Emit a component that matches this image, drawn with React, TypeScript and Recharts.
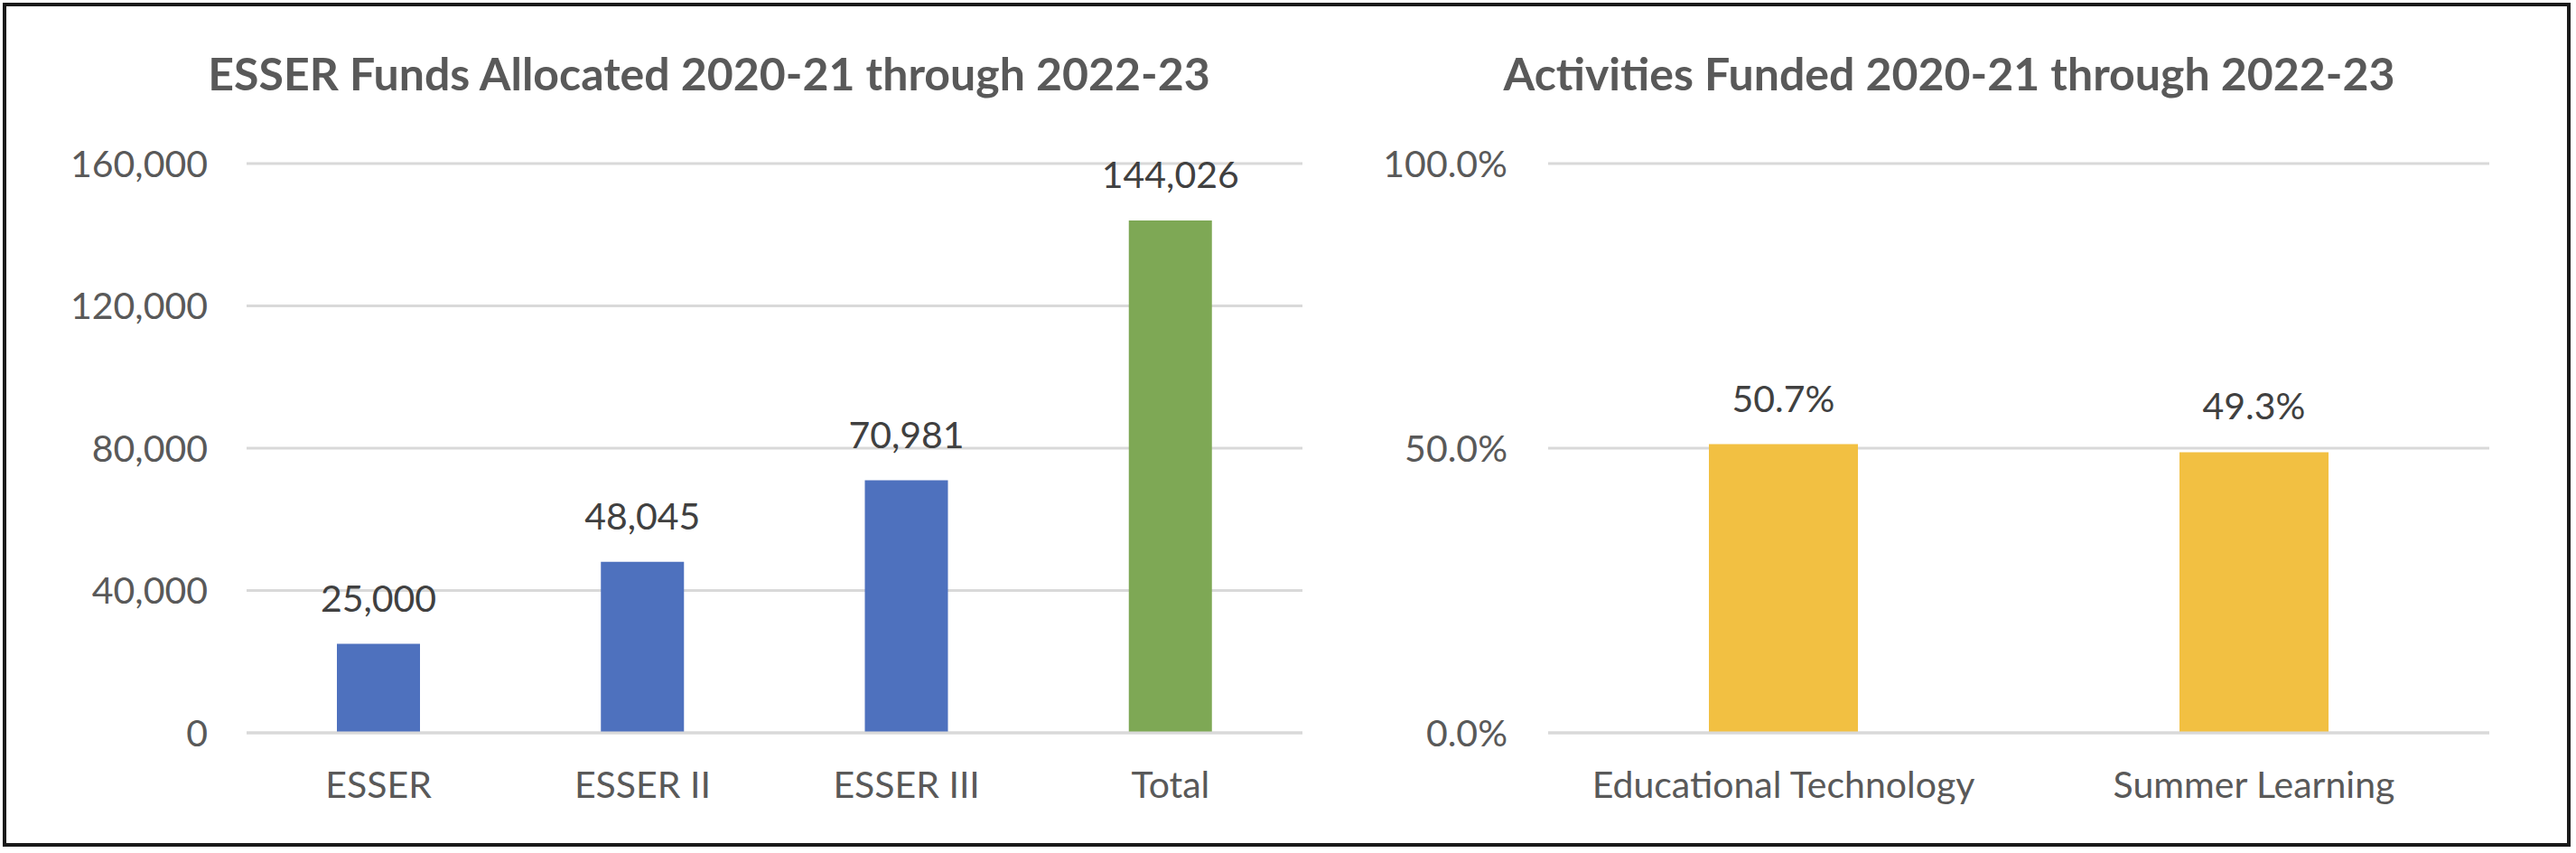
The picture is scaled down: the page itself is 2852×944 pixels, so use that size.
import React from 'react';
import { BarChart, Bar, XAxis, YAxis, CartesianGrid, Cell, LabelList } from 'recharts';

// ESSER funds (dollars)
const fundCategories = ['ESSER', 'ESSER II', 'ESSER III', 'Total'];
const fundValues = [25000, 48045, 70981, 144026];
const fundTicks = [0, 40000, 80000, 120000, 160000];

// share of activities funded
const activityCategories = ['Educational Technology', 'Summer Learning'];
const activityShares = [0.507, 0.493];
const activityTicks = [0, 0.5, 1];

const fundColors = ['#4E71BE', '#4E71BE', '#4E71BE', '#7EA855'];
const activityColor = '#F2C042';

const FONT = 'Lato, "Open Sans", sans-serif';
const AXIS_GRAY = '#595959';
const LABEL_GRAY = '#404040';
const GRID = '#D9D9D9';

const fundData = fundCategories.map((name, i) => ({ name, value: fundValues[i] }));
const activityData = activityCategories.map((name, i) => ({ name, value: activityShares[i] }));

const fmtNum = (v: number) => v.toLocaleString('en-US');
const fmtPct = (v: number) => (v * 100).toFixed(1) + '%';

const tickStyle = { fill: AXIS_GRAY, fontSize: 41, fontFamily: FONT };
const labelStyle = { fill: LABEL_GRAY, fontSize: 41, fontFamily: FONT };

function Title({ text, center }: { text: string; center: number }) {
  return (
    <div
      style={{
        position: 'absolute',
        left: center - 700,
        width: 1400,
        top: 56,
        textAlign: 'center',
        fontFamily: FONT,
        fontWeight: 700,
        fontSize: 50,
        lineHeight: 1,
        color: AXIS_GRAY,
      }}
    >
      {text}
    </div>
  );
}

export default function App() {
  return (
    <div style={{ position: 'relative', width: 2852, height: 944, background: '#fff' }}>
      <style>{`body{margin:0}`}</style>
      <div
        style={{
          position: 'absolute',
          left: 3,
          top: 3,
          width: 2843,
          height: 934,
          boxSizing: 'border-box',
          border: '4px solid #1a1a1a',
        }}
      />

      <Title text="ESSER Funds Allocated 2020-21 through 2022-23" center={785} />
      <Title text="Activities Funded 2020-21 through 2022-23" center={2158} />

      <div style={{ position: 'absolute', left: 0, top: 0 }}>
        <BarChart
          width={1480}
          height={944}
          data={fundData}
          margin={{ top: 181, right: 38, bottom: 73, left: 0 }}
        >
          <CartesianGrid vertical={false} stroke={GRID} strokeWidth={3} />
          <XAxis
            dataKey="name"
            axisLine={{ stroke: GRID, strokeWidth: 3 }}
            tickLine={false}
            tickSize={0}
            tickMargin={43}
            height={60}
            tick={tickStyle}
            interval={0}
          />
          <YAxis
            domain={[0, 160000]}
            ticks={fundTicks}
            tickFormatter={fmtNum}
            axisLine={false}
            tickLine={false}
            tickSize={0}
            tickMargin={43}
            width={273}
            tick={tickStyle}
          />
          <Bar dataKey="value" barSize={92} isAnimationActive={false}>
            {fundData.map((d, i) => (
              <Cell key={d.name} fill={fundColors[i]} />
            ))}
            <LabelList dataKey="value" position="top" offset={36} formatter={fmtNum} style={labelStyle} />
          </Bar>
        </BarChart>
      </div>

      <div style={{ position: 'absolute', left: 1480, top: 0 }}>
        <BarChart
          width={1372}
          height={944}
          data={activityData}
          margin={{ top: 181, right: 96, bottom: 73, left: 0 }}
        >
          <CartesianGrid vertical={false} stroke={GRID} strokeWidth={3} />
          <XAxis
            dataKey="name"
            axisLine={{ stroke: GRID, strokeWidth: 3 }}
            tickLine={false}
            tickSize={0}
            tickMargin={43}
            height={60}
            tick={tickStyle}
            interval={0}
          />
          <YAxis
            domain={[0, 1]}
            ticks={activityTicks}
            tickFormatter={fmtPct}
            axisLine={false}
            tickLine={false}
            tickSize={0}
            tickMargin={45}
            width={234}
            tick={tickStyle}
          />
          <Bar dataKey="value" fill={activityColor} barSize={165} isAnimationActive={false}>
            <LabelList dataKey="value" position="top" offset={36} formatter={fmtPct} style={labelStyle} />
          </Bar>
        </BarChart>
      </div>
    </div>
  );
}
